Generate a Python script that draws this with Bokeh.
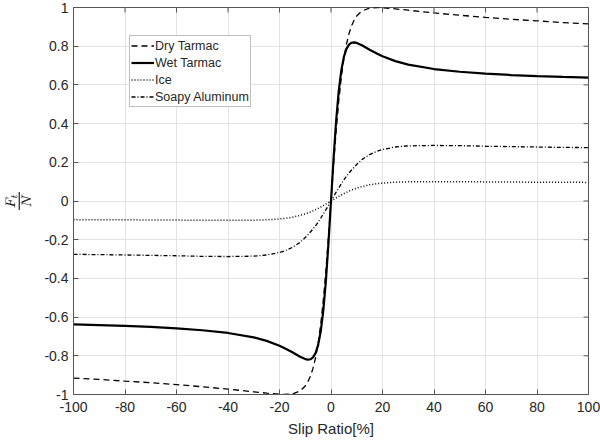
import math
from bokeh.plotting import figure
from bokeh.models import Range1d, Legend, LegendItem, FixedTicker, ColumnDataSource
from bokeh.embed import file_html
from bokeh.resources import INLINE

# Slip ratio [%]
slip = [-100, -90, -80, -70, -60, -50, -40, -30, -25, -20, -18, -15, -12, -10, -9, -8, -7, -6, -5, -4, -3, -2, -1,
        0, 1, 2, 3, 4, 5, 6, 7, 8, 9, 10, 12, 15, 18, 20, 25, 30, 40, 50, 60, 70, 80, 90, 100]

dry_tarmac = [-0.915, -0.922, -0.931, -0.939, -0.949, -0.960, -0.972, -0.986, -0.993, -0.999, -1.000, -0.997, -0.982, -0.956, -0.935, -0.906, -0.865, -0.810, -0.736, -0.638, -0.514, -0.362, -0.188,
              0.0, 0.188, 0.362, 0.514, 0.638, 0.736, 0.810, 0.865, 0.906, 0.935, 0.956, 0.982, 0.997, 1.000, 0.999, 0.993, 0.986, 0.972, 0.960, 0.949, 0.939, 0.931, 0.922, 0.915]

wet_tarmac = [-0.638, -0.641, -0.645, -0.651, -0.658, -0.668, -0.682, -0.705, -0.723, -0.748, -0.761, -0.782, -0.805, -0.817, -0.820, -0.818, -0.808, -0.786, -0.745, -0.675, -0.568, -0.416, -0.221,
              0.0, 0.221, 0.416, 0.568, 0.675, 0.745, 0.786, 0.808, 0.818, 0.820, 0.817, 0.805, 0.782, 0.761, 0.748, 0.723, 0.705, 0.682, 0.668, 0.658, 0.651, 0.645, 0.641, 0.638]

ice = [-0.0962, -0.0966, -0.0972, -0.0979, -0.0987, -0.0995, -0.1000, -0.0991, -0.0971, -0.0927, -0.0898, -0.0837, -0.0746, -0.0665, -0.0617, -0.0565, -0.0508, -0.0446, -0.0380, -0.0310, -0.0235, -0.0159, -0.0080,
       0.0, 0.0080, 0.0159, 0.0235, 0.0310, 0.0380, 0.0446, 0.0508, 0.0565, 0.0617, 0.0665, 0.0746, 0.0837, 0.0898, 0.0927, 0.0971, 0.0991, 0.1000, 0.0995, 0.0987, 0.0979, 0.0972, 0.0966, 0.0962]

soapy_aluminum = [-0.276, -0.277, -0.279, -0.281, -0.283, -0.286, -0.287, -0.285, -0.279, -0.266, -0.258, -0.240, -0.214, -0.189, -0.175, -0.160, -0.145, -0.128, -0.109, -0.089, -0.067, -0.046, -0.023,
                  0.0, 0.023, 0.046, 0.067, 0.089, 0.109, 0.128, 0.145, 0.160, 0.175, 0.189, 0.214, 0.240, 0.258, 0.266, 0.279, 0.285, 0.287, 0.286, 0.283, 0.281, 0.279, 0.277, 0.276]

series_names = ["Dry Tarmac", "Wet Tarmac", "Ice", "Soapy Aluminum"]
x_ticks = [-100, -80, -60, -40, -20, 0, 20, 40, 60, 80, 100]
x_tick_labels = {-100: "-100", -80: "-80", -60: "-60", -40: "-40", -20: "-20", 0: "0",
                 20: "20", 40: "40", 60: "60", 80: "80", 100: "100"}
y_ticks = [-1, -0.8, -0.6, -0.4, -0.2, 0, 0.2, 0.4, 0.6, 0.8, 1]
y_tick_labels = {-1: "-1", -0.8: "-0.8", -0.6: "-0.6", -0.4: "-0.4", -0.2: "-0.2", 0: "0",
                 0.2: "0.2", 0.4: "0.4", 0.6: "0.6", 0.8: "0.8", 1: "1"}

FONT = "Liberation Sans"
AX = "#555555"
TXT = "#262626"

p = figure(width=600, height=442, output_backend="svg", toolbar_location=None,
           x_range=Range1d(-100, 100), y_range=Range1d(-1, 1),
           min_border_left=73, min_border_right=12, min_border_top=7, min_border_bottom=48,
           x_axis_label="Slip Ratio[%]", y_axis_label=r"\(\frac{F_t}{N}\)")
p.outline_line_color = AX
p.outline_line_width = 1
p.background_fill_color = "white"
p.border_fill_color = "white"

p.xgrid.ticker = FixedTicker(ticks=x_ticks)
p.ygrid.ticker = FixedTicker(ticks=y_ticks)
p.xgrid.grid_line_color = "#e3e3e3"
p.ygrid.grid_line_color = "#e3e3e3"

src = ColumnDataSource(dict(x=slip, dry=dry_tarmac, wet=wet_tarmac, ice=ice, soapy=soapy_aluminum))
r_dry = p.line("x", "dry", source=src, line_color="black", line_width=1.3, line_dash="6 4")
r_wet = p.line("x", "wet", source=src, line_color="black", line_width=2.2)
r_ice = p.line("x", "ice", source=src, line_color="black", line_width=1.5, line_dash="1 2")
r_soapy = p.line("x", "soapy", source=src, line_color="black", line_width=1.3, line_dash="4 2 1 2")

# inward ticks on the top and right edges of the box (clipped to the frame)
p.scatter(x_ticks, [1] * len(x_ticks), marker="dash", size=10, angle=math.pi / 2, line_color=AX, line_width=1)
p.scatter([100] * len(y_ticks), y_ticks, marker="dash", size=10, line_color=AX, line_width=1)

for ax in (p.xaxis[0], p.yaxis[0]):
    ax.axis_line_color = AX
    ax.major_tick_line_color = AX
    ax.major_tick_in = 5
    ax.major_tick_out = 0
    ax.minor_tick_line_color = None
    ax.major_label_text_font = FONT
    ax.major_label_text_font_size = "14px"
    ax.major_label_text_color = TXT
    ax.axis_label_text_font = FONT
    ax.axis_label_text_color = TXT
    ax.axis_label_text_font_style = "normal"

p.xaxis[0].ticker = FixedTicker(ticks=x_ticks)
p.yaxis[0].ticker = FixedTicker(ticks=y_ticks)
p.xaxis[0].major_label_overrides = x_tick_labels
p.yaxis[0].major_label_overrides = y_tick_labels
p.xaxis[0].major_label_standoff = 7
p.yaxis[0].major_label_standoff = 5
p.xaxis[0].axis_label_standoff = 5
p.xaxis[0].axis_label_text_font_size = "15px"
p.yaxis[0].axis_label_standoff = 10
p.yaxis[0].axis_label_text_font_size = "16px"

legend = Legend(items=[LegendItem(label=series_names[0], renderers=[r_dry]),
                       LegendItem(label=series_names[1], renderers=[r_wet]),
                       LegendItem(label=series_names[2], renderers=[r_ice]),
                       LegendItem(label=series_names[3], renderers=[r_soapy])],
                location=(56, 287))
legend.label_text_font = FONT
legend.label_text_font_size = "12.5px"
legend.label_text_color = TXT
legend.label_standoff = 1
legend.label_height = 17
legend.glyph_width = 23
legend.glyph_height = 17
legend.spacing = 0
legend.padding = 1
legend.margin = 0
legend.border_line_color = "#7f7f7f"
legend.border_line_width = 1
legend.background_fill_color = "white"
legend.background_fill_alpha = 1
p.add_layout(legend, "center")

open("out.html", "w").write(file_html(p, INLINE))
